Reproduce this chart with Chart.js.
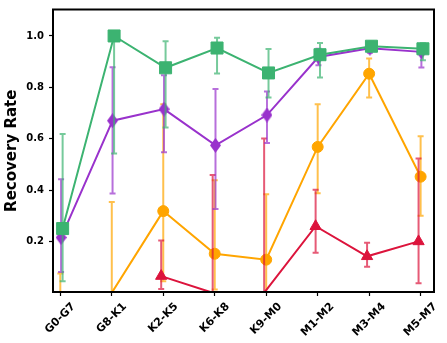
<!DOCTYPE html>
<html>
<head>
<meta charset="utf-8">
<script src="https://cdn.jsdelivr.net/npm/chart.js@4"></script>
<style>
  html, body { margin: 0; padding: 0; background: #fff; }
  #wrap { width: 447px; height: 343px; }
</style>
</head>
<body>
<div id="wrap"><canvas id="chart" width="447" height="343"></canvas></div>
<script>
// ---- DATA ----
const categories = ['G0-G7', 'G8-K1', 'K2-K5', 'K6-K8', 'K9-M0', 'M1-M2', 'M3-M4', 'M5-M7'];
const yTicks = [0.2, 0.4, 0.6, 0.8, 1.0];

const greenVals  = [0.250, 1.000, 0.876, 0.953, 0.856, 0.927, 0.960, 0.950];
const greenLow   = [0.045, 0.542, 0.644, 0.854, 0.760, 0.838, 0.945, 0.905];
const greenHigh  = [0.618, 1.000, 0.979, 0.993, 0.949, 0.973, 0.978, 0.972];

const purpleVals = [0.215, 0.670, 0.715, 0.574, 0.692, 0.918, 0.952, 0.938];
const purpleLow  = [0.081, 0.387, 0.547, 0.326, 0.583, 0.886, 0.935, 0.877];
const purpleHigh = [0.442, 0.878, 0.847, 0.793, 0.784, 0.950, 0.968, 0.960];

const orangeVals = [0.000, 0.000, 0.318, 0.152, 0.129, 0.568, 0.853, 0.452];
const orangeLow  = [0.000, 0.000, 0.045, 0.013, 0.000, 0.388, 0.760, 0.300];
const orangeHigh = [0.075, 0.353, 0.734, 0.438, 0.384, 0.734, 0.912, 0.609];

const redVals    = [null, null, 0.065, 0.000, 0.000, 0.259, 0.142, 0.200];
const redLow     = [null, null, 0.015, 0.000, 0.000, 0.156, 0.101, 0.037];
const redHigh    = [null, null, 0.204, 0.459, 0.601, 0.401, 0.195, 0.523];

// ---- helpers ----
function points(vals, lo, hi, dx) {
  return vals.map((v, i) => ({ x: i + dx, y: v, lo: lo[i], hi: hi[i] }));
}

// thin diamond marker
const diamond = document.createElement('canvas');
diamond.width = 11; diamond.height = 15;
(function() {
  const c = diamond.getContext('2d');
  c.fillStyle = '#9932CC';
  c.beginPath();
  c.moveTo(5.5, 0); c.lineTo(11, 7.5); c.lineTo(5.5, 15); c.lineTo(0, 7.5);
  c.closePath(); c.fill();
})();

const hideZero = r => ctx => (ctx.raw && ctx.raw.y > 0) ? r : 0;

// error bars drawn under each dataset's own line + markers
const errorBars = {
  id: 'errorBars',
  beforeDatasetDraw(chart, args) {
    const ds = chart.data.datasets[args.index];
    const { ctx, chartArea, scales: { x, y } } = chart;
    ctx.save();
    ctx.beginPath();
    ctx.rect(chartArea.left, chartArea.top, chartArea.width, chartArea.height);
    ctx.clip();
    ctx.strokeStyle = ds.borderColor;
    ctx.globalAlpha = 0.7;
    ctx.lineWidth = 2;
    ds.data.forEach(p => {
      if (p.lo == null || p.hi == null) return;
      const px = x.getPixelForValue(p.x);
      const y1 = y.getPixelForValue(p.lo);
      const y2 = y.getPixelForValue(p.hi);
      ctx.beginPath();
      ctx.moveTo(px, y1); ctx.lineTo(px, y2);
      ctx.moveTo(px - 3, y1); ctx.lineTo(px + 3, y1);
      ctx.moveTo(px - 3, y2); ctx.lineTo(px + 3, y2);
      ctx.stroke();
    });
    ctx.restore();
  }
};

const tickFont = { family: 'DejaVu Sans', size: 10, weight: 'bold' };

// frame + x labels rotated 45deg, centred under the tick (matplotlib style)
const frame = {
  id: 'frame',
  afterDraw(chart) {
    const { ctx, chartArea: a, scales: { x } } = chart;
    ctx.save();
    ctx.strokeStyle = '#000';
    ctx.lineWidth = 2;
    ctx.strokeRect(a.left, a.top, a.right - a.left, a.bottom - a.top);

    ctx.fillStyle = '#000';
    ctx.font = 'bold 11px "DejaVu Sans"';
    ctx.textAlign = 'center';
    ctx.textBaseline = 'middle';
    const s = Math.SQRT1_2;
    categories.forEach((c, i) => {
      const w = ctx.measureText(c).width;
      const h = 8;
      const boxH = (w + h) * s;
      const px = x.getPixelForValue(i);
      ctx.save();
      ctx.translate(px, a.bottom + 10 + boxH / 2);
      ctx.rotate(-Math.PI / 4);
      ctx.fillText(c, 0, 0);
      ctx.restore();
    });
    ctx.restore();
  }
};

new Chart(document.getElementById('chart').getContext('2d'), {
  type: 'line',
  data: {
    datasets: [
      {
        data: points(greenVals, greenLow, greenHigh, 0.045),
        borderColor: '#3CB371', backgroundColor: '#3CB371',
        borderWidth: 2, pointStyle: 'rect', pointRadius: 8.5, pointBorderWidth: 1
      },
      {
        data: points(purpleVals, purpleLow, purpleHigh, 0.015),
        borderColor: '#9932CC', backgroundColor: '#9932CC',
        borderWidth: 2, pointStyle: diamond, pointRadius: 6, pointBorderWidth: 1
      },
      {
        data: points(redVals, redLow, redHigh, -0.04),
        borderColor: '#DC143C', backgroundColor: '#DC143C',
        borderWidth: 2, pointStyle: 'triangle', pointRadius: hideZero(6.5), pointBorderWidth: 1
      },
      {
        data: points(orangeVals, orangeLow, orangeHigh, 0),
        borderColor: '#FFA500', backgroundColor: '#FFA500',
        borderWidth: 2, pointStyle: 'circle', pointRadius: hideZero(5.5), pointBorderWidth: 1
      }
    ]
  },
  options: {
    responsive: false,
    devicePixelRatio: 1,
    animation: false,
    layout: { padding: { left: 0, right: 13, top: 5, bottom: 0 } },
    plugins: { legend: { display: false }, tooltip: { enabled: false } },
    scales: {
      x: {
        type: 'linear',
        min: -0.142, max: 7.26,
        afterBuildTicks: s => { s.ticks = categories.map((_, i) => ({ value: i })); },
        afterFit: s => { s.height = 51; s.paddingLeft = 0; s.paddingRight = 0; },
        border: { display: false },
        grid: { drawOnChartArea: false, tickLength: 4, tickColor: '#000', tickWidth: 1.2 },
        ticks: { display: false }
      },
      y: {
        min: 0.003, max: 1.103,
        afterBuildTicks: s => { s.ticks = yTicks.map(v => ({ value: v })); },
        afterFit: s => { s.width = 53; s.paddingTop = 0; s.paddingBottom = 0; },
        border: { display: false },
        grid: { drawOnChartArea: false, tickLength: 4, tickColor: '#000', tickWidth: 1.2 },
        ticks: { callback: v => v.toFixed(1), color: '#000', font: tickFont, padding: 5 },
        title: {
          display: true, text: 'Recovery Rate', color: '#000',
          font: { family: 'DejaVu Sans', size: 15, weight: 'bold' },
          padding: { top: 3, bottom: 4 }
        }
      }
    }
  },
  plugins: [errorBars, frame]
});
</script>
</body>
</html>
